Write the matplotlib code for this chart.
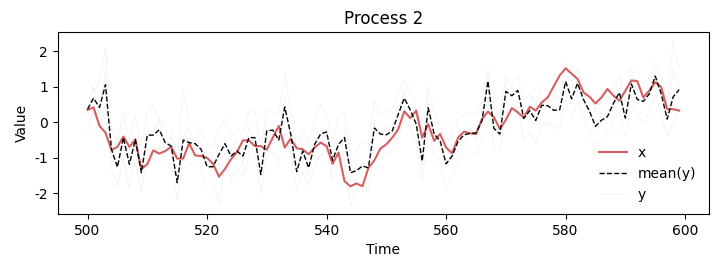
import matplotlib
matplotlib.use("Agg")
import matplotlib.pyplot as plt
import numpy as np

plt.rcParams["axes.unicode_minus"] = False

time = np.arange(500, 600)

# process x (red)
x = [0.35, 0.42, -0.10, -0.29, -0.78, -0.69, -0.40, -0.69, -0.49, -1.31,
     -1.18, -0.79, -0.88, -0.81, -0.69, -1.02, -1.02, -0.59, -0.93, -0.95,
     -1.00, -1.17, -1.53, -1.31, -1.04, -0.84, -0.51, -0.51, -0.67, -0.67,
     -0.77, -0.43, -0.10, -0.71, -0.46, -0.73, -0.76, -0.90, -0.71, -0.57,
     -0.67, -1.17, -0.85, -1.66, -1.80, -1.72, -1.80, -1.28, -1.07, -0.74,
     -0.62, -0.43, -0.19, 0.31, 0.12, 0.33, -0.43, -0.05, -0.52, -0.33,
     -0.71, -0.87, -0.43, -0.26, -0.31, -0.33, 0.09, 0.30, 0.15, -0.19,
     0.07, 0.40, 0.28, 0.13, 0.44, 0.33, 0.56, 0.70, 1.01, 1.32,
     1.52, 1.37, 1.22, 0.84, 0.72, 0.53, 0.70, 0.94, 0.75, 0.61,
     0.89, 1.18, 1.16, 0.70, 0.89, 1.13, 0.99, 0.37, 0.37, 0.33]

# mean of the y samples (black dashed)
mean_y = [0.37, 0.68, 0.42, 1.06, -0.76, -1.26, -0.43, -1.18, -0.48, -1.42,
          -0.36, -0.36, -0.21, -0.57, -0.67, -1.70, -0.50, -0.57, -0.60, -0.76,
          -1.25, -1.25, -0.90, -0.60, -0.95, -0.81, -0.95, -0.43, -0.43, -1.47,
          -0.24, -0.22, -0.50, 0.43, -0.33, -1.39, -0.81, -1.28, -0.62, -0.33,
          -0.27, -1.07, -0.62, -0.43, -1.42, -1.36, -1.23, -1.28, -0.16, -0.33,
          -0.35, -0.24, 0.23, 0.68, 0.35, -0.05, -1.09, 0.41, -0.33, -0.52,
          -1.17, -0.95, -0.54, -0.35, -0.31, -0.30, 0.04, 1.16, -0.17, -0.33,
          0.87, 0.75, 0.90, 0.11, 0.33, 0.05, 0.48, 0.47, 0.34, 0.35,
          1.15, 0.66, 1.10, 0.64, 0.31, -0.11, 0.06, 0.16, 0.53, 0.84,
          0.12, 1.08, 0.64, 0.59, 0.80, 1.30, 0.80, 0.09, 0.72, 0.92]

# individual y samples (faint grey)
y1 = [1.2, 0.9, 1.1, 2.1, -0.2, -0.6, 0.3, -0.5, 0.2, -0.8,
      0.3, 0.5, 0.1, -0.1, -0.2, -1.0, 0.9, 0.1, -0.1, -0.3,
      -0.6, -0.7, -0.2, 0.1, -0.4, -0.2, -0.3, 0.3, 0.4, -0.8,
      0.4, 0.3, 0.2, 1.4, 0.3, -0.8, -0.2, -0.6, 0.1, 0.5,
      0.2, -0.5, 0.1, 0.3, -0.9, -0.8, -0.5, -0.6, 0.6, 0.2,
      0.3, 0.4, 0.8, 1.2, 0.9, 0.4, -0.6, 1.0, 0.3, -0.1,
      -0.6, -0.4, 0.1, 0.2, 0.3, 0.2, 0.6, 1.5, 0.4, 0.1,
      1.3, 1.0, 1.3, 0.6, 0.8, 0.5, 1.0, 0.9, 0.8, 0.7,
      1.7, 1.1, 1.5, 1.0, 0.9, 0.3, 0.6, 0.6, 0.9, 1.3,
      0.6, 1.5, 1.0, 1.1, 1.2, 1.7, 1.2, 0.6, 2.3, 1.5]
y2 = [-0.3, 0.4, -0.1, 0.5, -1.3, -1.8, -1.0, -1.85, -1.1, -1.9,
      -0.9, -1.0, -0.7, -1.1, -1.2, -2.2, -1.0, -1.2, -1.0, -1.3,
      -1.8, -1.7, -2.3, -1.2, -1.6, -1.3, -1.5, -1.0, -0.9, -2.0,
      -0.8, -0.9, -1.1, -0.3, -0.9, -1.9, -1.4, -1.8, -1.2, -0.9,
      -0.8, -1.6, -1.1, -1.0, -2.35, -1.9, -1.8, -1.9, -0.7, -0.8,
      -0.9, -0.8, -0.4, 0.1, -0.2, -0.5, -1.6, -0.2, -0.9, -1.1,
      -1.8, -1.5, -1.1, -0.9, -0.8, -0.9, -0.5, 0.7, -0.7, -0.8,
      0.3, 0.2, 0.4, -0.5, -0.3, -0.6, -0.1, 0.0, -0.2, -0.1,
      0.5, 0.1, 0.6, 0.2, -0.3, -0.6, -0.5, -0.3, 0.1, 0.3,
      -0.4, 0.5, 0.2, 0.0, 0.3, 0.8, 0.2, -0.4, 0.0, 0.4]
y3 = [0.2, 1.0, 0.2, 1.5, -1.0, -0.9, -0.6, -1.0, -0.8, -1.4,
      -0.2, -0.3, 0.1, -0.9, -0.4, -1.7, -0.4, -0.2, -0.9, -0.6,
      -1.2, -1.3, -0.6, -0.9, -0.8, -0.5, -1.2, -0.1, -0.7, -1.5,
      -0.1, -0.5, -0.4, 0.6, -0.6, -1.4, -0.6, -1.5, -0.4, -0.6,
      -0.3, -1.0, -0.8, -0.3, -1.3, -1.5, -1.1, -1.4, 0.1, -0.5,
      -0.4, -0.1, 0.3, 0.9, 0.2, 0.1, -1.2, 0.6, -0.5, -0.6,
      -1.1, -0.9, -0.6, -0.5, -0.2, -0.5, 0.2, 1.3, -0.1, -0.4,
      1.0, 0.7, 0.9, 0.2, 0.4, 0.1, 0.5, 0.6, 0.4, 0.5,
      1.2, 0.9, 1.2, 0.6, 0.4, -0.2, 0.2, 0.3, 0.6, 1.0,
      0.2, 1.2, 0.7, 0.6, 1.0, 1.4, 0.9, 0.1, 1.5, 1.0]

fig, ax = plt.subplots(figsize=(7.21, 2.72), dpi=100)
fig.subplots_adjust(left=0.0804, right=0.983, top=0.881, bottom=0.213)

ax.plot(time, x, color="#d65f5f", lw=1.5, label="x")
ax.plot(time, mean_y, "k--", lw=1, label="mean(y)")
for i, ys in enumerate([y1, y2, y3]):
    ax.plot(time, ys, color="gray", lw=0.5, alpha=0.12,
            label="y" if i == 0 else None)

ax.set_xlabel("Time")
ax.set_ylabel("Value")
ax.set_title("Process 2")
ax.set_xticks([500, 520, 540, 560, 580, 600])
ax.set_yticks([-2, -1, 0, 1, 2])
ax.legend(loc="lower right", frameon=False)

fig.savefig("out.png")
